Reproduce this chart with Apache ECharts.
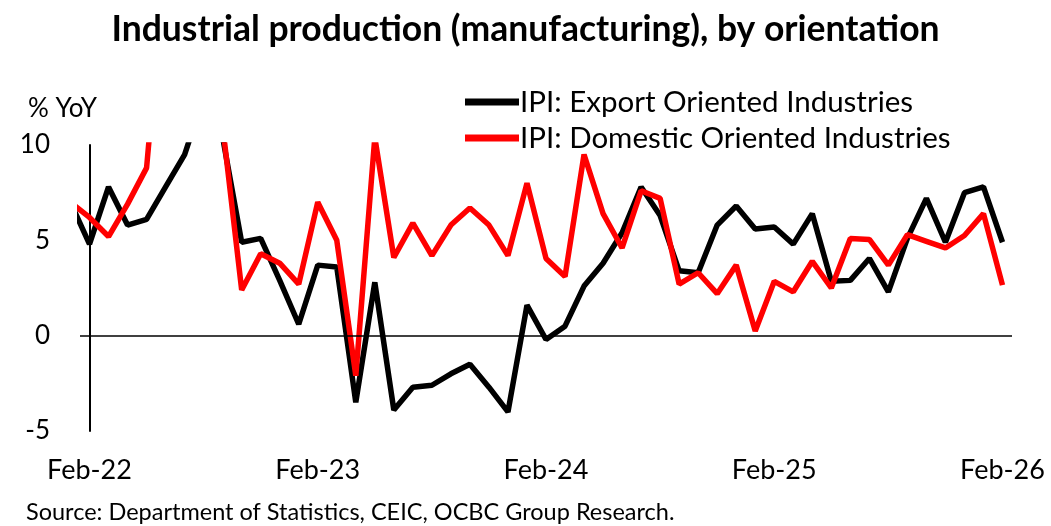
<!DOCTYPE html>
<html>
<head>
<meta charset="utf-8">
<script src="https://cdn.jsdelivr.net/npm/echarts@6/dist/echarts.min.js"></script>
<style>
  html, body { margin: 0; padding: 0; background: #fff; }
  #chart { width: 1051px; height: 526px; }
</style>
</head>
<body>
<div id="chart"></div>
<script>
// months Jan-22 .. Feb-26 (Jan-22 sits just left of the axis and gets clipped)
const months = [];
const mNames = ['Jan', 'Feb', 'Mar', 'Apr', 'May', 'Jun', 'Jul', 'Aug', 'Sep', 'Oct', 'Nov', 'Dec'];
for (let y = 22; y <= 26; y++) {
    for (let m = 0; m < 12; m++) {
        if (y === 26 && m > 1) break;
        months.push(mNames[m] + '-' + y);
    }
}

const exportOriented = [
    7.0, 4.8, 7.8, 5.8, 6.1, 7.8, 9.5, 12.5, 10.4, 4.9, 5.1,
    2.9, 0.6, 3.7, 3.6, -3.5, 2.8, -3.9, -2.7, -2.6, -2.0,
    -1.5, -2.7, -4.0, 1.6, -0.2, 0.5, 2.6, 3.8, 5.4, 7.8,
    6.3, 3.4, 3.3, 5.8, 6.8, 5.6, 5.7, 4.8, 6.4, 2.85,
    2.9, 4.05, 2.3, 5.1, 7.2, 4.9, 7.5, 7.8, 4.9
];

const domesticOriented = [
    7.0, 6.2, 5.2, 6.9, 8.8, 20.0, 18.0, 14.0, 11.0, 2.4, 4.3,
    3.8, 2.7, 7.0, 5.0, -2.1, 10.4, 4.1, 5.9, 4.2, 5.8,
    6.7, 5.8, 4.2, 8.0, 4.05, 3.1, 9.5, 6.4, 4.6, 7.6,
    7.2, 2.7, 3.3, 2.2, 3.7, 0.25, 2.85, 2.3, 3.9, 2.5,
    5.1, 5.05, 3.7, 5.3, 4.95, 4.6, 5.25, 6.4, 2.65
];

const xTicks = [0, 12, 24, 36, 48];
const yTicks = [-5, 0, 5, 10];

const font = 'Lato, "Open Sans", sans-serif';

function toPoints(arr) {
    return arr.map((v, k) => [k - 1, v]);
}

const chart = echarts.init(document.getElementById('chart'));

const option = {
    animation: false,
    backgroundColor: '#ffffff',
    title: [
        {
            text: 'Industrial production (manufacturing), by orientation',
            left: 'center',
            top: 7,
            textStyle: { fontFamily: font, fontWeight: 'bold', fontSize: 35.5, color: '#000' }
        },
        {
            text: '% YoY',
            left: 23,
            top: 91,
            textStyle: { fontFamily: font, fontWeight: 'normal', fontSize: 26, color: '#000' }
        },
        {
            text: 'Source: Department of Statistics, CEIC, OCBC Group Research.',
            left: 21,
            top: 495,
            textStyle: { fontFamily: font, fontWeight: 'normal', fontSize: 23.5, color: '#000' }
        }
    ],
    legend: {
        orient: 'vertical',
        left: 460,
        top: 82,
        itemGap: 6,
        itemWidth: 54,
        itemHeight: 7,
        icon: 'rect',
        textStyle: { fontFamily: font, fontSize: 29.5, lineHeight: 28, color: '#000', padding: [0, 0, 0, -4] },
        data: ['IPI: Export Oriented Industries', 'IPI: Domestic Oriented Industries']
    },
    grid: {
        left: 80,
        right: 39,
        top: 145,
        bottom: 95,
        containLabel: false
    },
    xAxis: {
        type: 'value',
        min: -0.5,
        max: 48.5,
        axisLine: { show: false, onZero: false },
        axisTick: { show: false },
        splitLine: { show: false },
        axisLabel: {
            customValues: xTicks,
            formatter: (v) => months[Math.round(v) + 1],
            margin: 26,
            fontFamily: font,
            fontSize: 27,
            color: '#000'
        }
    },
    yAxis: {
        type: 'value',
        min: -5,
        max: 10,
        interval: 5,
        axisLine: { show: true, lineStyle: { color: '#000', width: 2 } },
        axisTick: { show: false },
        splitLine: { show: false },
        axisLabel: {
            customValues: yTicks,
            margin: 30,
            fontFamily: font,
            fontSize: 26,
            color: '#000'
        }
    },
    series: [
        {
            name: 'IPI: Export Oriented Industries',
            type: 'line',
            data: toPoints(exportOriented),
            showSymbol: false,
            clip: true,
            color: '#000000',
            lineStyle: { color: '#000000', width: 5.5 },
            z: 3,
            markLine: {
                silent: true,
                symbol: 'none',
                label: { show: false },
                lineStyle: { color: '#000', width: 1.5, type: 'solid' },
                data: [{ yAxis: 0 }]
            }
        },
        {
            name: 'IPI: Domestic Oriented Industries',
            type: 'line',
            data: toPoints(domesticOriented),
            showSymbol: false,
            clip: true,
            color: '#ff0000',
            lineStyle: { color: '#ff0000', width: 5.5 },
            z: 4
        }
    ]
};

chart.setOption(option);
</script>
</body>
</html>
